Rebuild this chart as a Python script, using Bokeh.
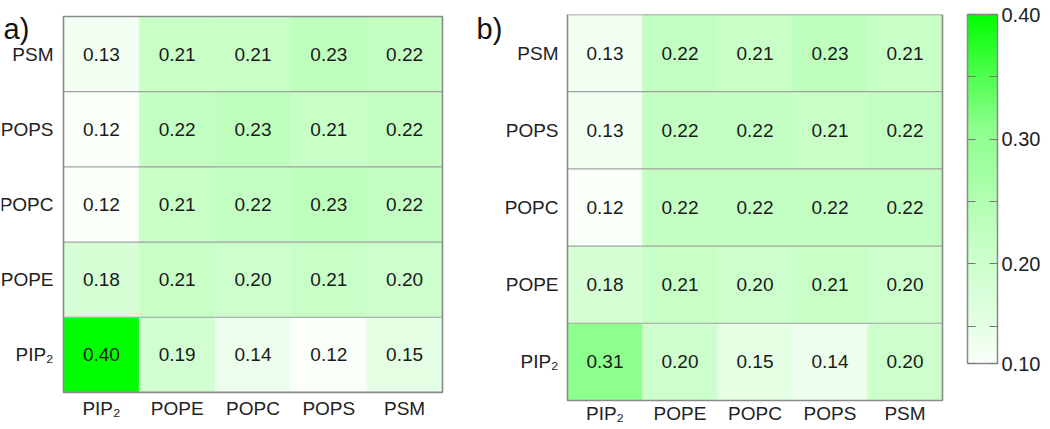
import numpy as np
from bokeh.plotting import figure
from bokeh.models import (ColumnDataSource, LinearColorMapper, ColorBar, FixedTicker,
                          Range1d, PrintfTickFormatter)
from bokeh.core.properties import value
from bokeh.layouts import row
from bokeh.embed import file_html
from bokeh.resources import INLINE

# ---------------- data ----------------
lipids = ["PIP₂", "POPE", "POPC", "POPS", "PSM"]   # x (left->right) and y (bottom->top)

# panel a) rows, one list per y-lipid, values across x-lipids
a_pip2 = [0.40, 0.19, 0.14, 0.12, 0.15]
a_pope = [0.18, 0.21, 0.20, 0.21, 0.20]
a_popc = [0.12, 0.21, 0.22, 0.23, 0.22]
a_pops = [0.12, 0.22, 0.23, 0.21, 0.22]
a_psm = [0.13, 0.21, 0.21, 0.23, 0.22]

# panel b)
b_pip2 = [0.31, 0.20, 0.15, 0.14, 0.20]
b_pope = [0.18, 0.21, 0.20, 0.21, 0.20]
b_popc = [0.12, 0.22, 0.22, 0.22, 0.22]
b_pops = [0.13, 0.22, 0.22, 0.21, 0.22]
b_psm = [0.13, 0.22, 0.21, 0.23, 0.21]

cbar_low, cbar_high = 0.12, 0.40
cbar_ticks = [0.12, 0.15, 0.20, 0.25, 0.30, 0.35, 0.40]
cbar_labels = {0.12: "0.10", 0.15: "", 0.25: "", 0.35: "", 0.20: "0.20", 0.30: "0.30", 0.40: "0.40"}

# ---------------- colour map (white -> green) ----------------
_anchor_v = [0.12, 0.15, 0.23, 0.31, 0.35, 0.40]
_anchor_rb = [250, 228, 190, 140, 80, 0]
_vals = np.linspace(cbar_low, cbar_high, 256)
_rb = np.interp(_vals, _anchor_v, _anchor_rb).round().astype(int)
palette = ["#%02x%02x%02x" % (c, 255, c) for c in _rb]
mapper = LinearColorMapper(palette=palette, low=cbar_low, high=cbar_high)

FONT = value("Liberation Sans")
H = 426
N = len(lipids)
B = 1      # small border around each heat-map frame
TOP = 15   # observed top of the plotting frame (space taken above it)


def heatmap(rows, W, fl, fr, ft, fb, tag, tag_left, tag_mid, ylab_right, xlab_mid):
    """fl/fr/ft/fb: pixel box of the cell area inside the figure."""
    sx = (fr - fl) / N
    sy = (fb - ft) / N
    x0 = -0.5 - (fl - B) / sx
    y1 = N - 0.5 + (ft - TOP) / sy
    p = figure(width=W, height=H,
               x_range=Range1d(x0, x0 + (W - 2 * B) / sx),
               y_range=Range1d(y1 - (H - B - TOP) / sy, y1),
               x_axis_location=None, y_axis_location=None,
               min_border_left=B, min_border_right=B, min_border_top=B, min_border_bottom=B,
               output_backend="svg", toolbar_location=None)
    p.grid.visible = False
    p.outline_line_color = None
    p.background_fill_color = "white"
    p.border_fill_color = "white"

    def dx(px):
        return x0 + (px - B) / sx

    def dy(py):
        return y1 - (py - TOP) / sy

    xs, ys, vs, ts = [], [], [], []
    for yi, vals in enumerate(rows):
        for xi, v in enumerate(vals):
            xs.append(xi)
            ys.append(yi)
            vs.append(v)
            ts.append("%.2f" % v)
    src = ColumnDataSource(dict(x=xs, y=ys, v=vs, t=ts))
    p.rect("x", "y", 1, 1, source=src,
           fill_color={"field": "v", "transform": mapper},
           line_color={"field": "v", "transform": mapper}, line_width=0.6)
    # row separators
    seps = [i + 0.5 for i in range(N - 1)]
    p.segment(x0=[-0.5] * len(seps), x1=[N - 0.5] * len(seps), y0=seps, y1=seps,
              line_color="#a0a0a0", line_width=1.2)
    # frame
    p.rect(x=[(N - 1) / 2], y=[(N - 1) / 2], width=N, height=N, fill_color=None,
           line_color="#8a8a8a", line_width=1.6)
    # cell values
    p.text("x", "y", text="t", source=src, text_align="center", text_baseline="middle",
           text_font_size="19px", text_font=FONT, text_color="#1a1a1a")
    # category labels
    idx = list(range(N))
    p.text(x=[dx(ylab_right)] * N, y=idx, text=lipids, text_align="right",
           text_baseline="middle", text_font_size="19px", text_font=FONT, text_color="#222222")
    p.text(x=idx, y=[dy(xlab_mid)] * N, text=lipids, text_align="center",
           text_baseline="middle", text_font_size="19px", text_font=FONT, text_color="#222222")
    # panel tag
    p.text(x=[dx(tag_left)], y=[dy(tag_mid)], text=[tag], text_align="left",
           text_baseline="middle", text_font_size="29px", text_font=FONT, text_color="#111111")
    return p


pa = heatmap([a_pip2, a_pope, a_popc, a_pops, a_psm], W=470, fl=63, fr=442, ft=17, fb=392,
             tag="a)", tag_left=3, tag_mid=29, ylab_right=53, xlab_mid=408)
pb = heatmap([b_pip2, b_pope, b_popc, b_pops, b_psm], W=485, fl=97, fr=472, ft=15, fb=400,
             tag="b)", tag_left=6, tag_mid=29, ylab_right=88, xlab_mid=413)

pc = figure(width=95, height=H, x_range=Range1d(0, 1), y_range=Range1d(0, 1),
            x_axis_location=None, y_axis_location=None,
            min_border_left=12, min_border_top=14, min_border_right=0, min_border_bottom=0,
            output_backend="svg", toolbar_location=None)
pc.grid.visible = False
pc.outline_line_color = None
cb = ColorBar(color_mapper=mapper, location="top_left", width=30, height=349, padding=0, margin=0,
              ticker=FixedTicker(ticks=cbar_ticks), formatter=PrintfTickFormatter(format="%.2f"),
              major_label_overrides=cbar_labels,
              major_tick_in=30, major_tick_out=0, major_tick_line_color="#777777",
              major_tick_line_dash="8 14", major_tick_line_width=1.2,
              minor_tick_line_color=None, bar_line_color="#888888", bar_line_width=1.5,
              label_standoff=4, major_label_text_font="Liberation Sans",
              major_label_text_font_size="20px", major_label_text_color="#222222",
              background_fill_color=None, border_line_color=None)
pc.add_layout(cb)

layout = row(pa, pb, pc)
open("out.html", "w").write(file_html(layout, INLINE))
